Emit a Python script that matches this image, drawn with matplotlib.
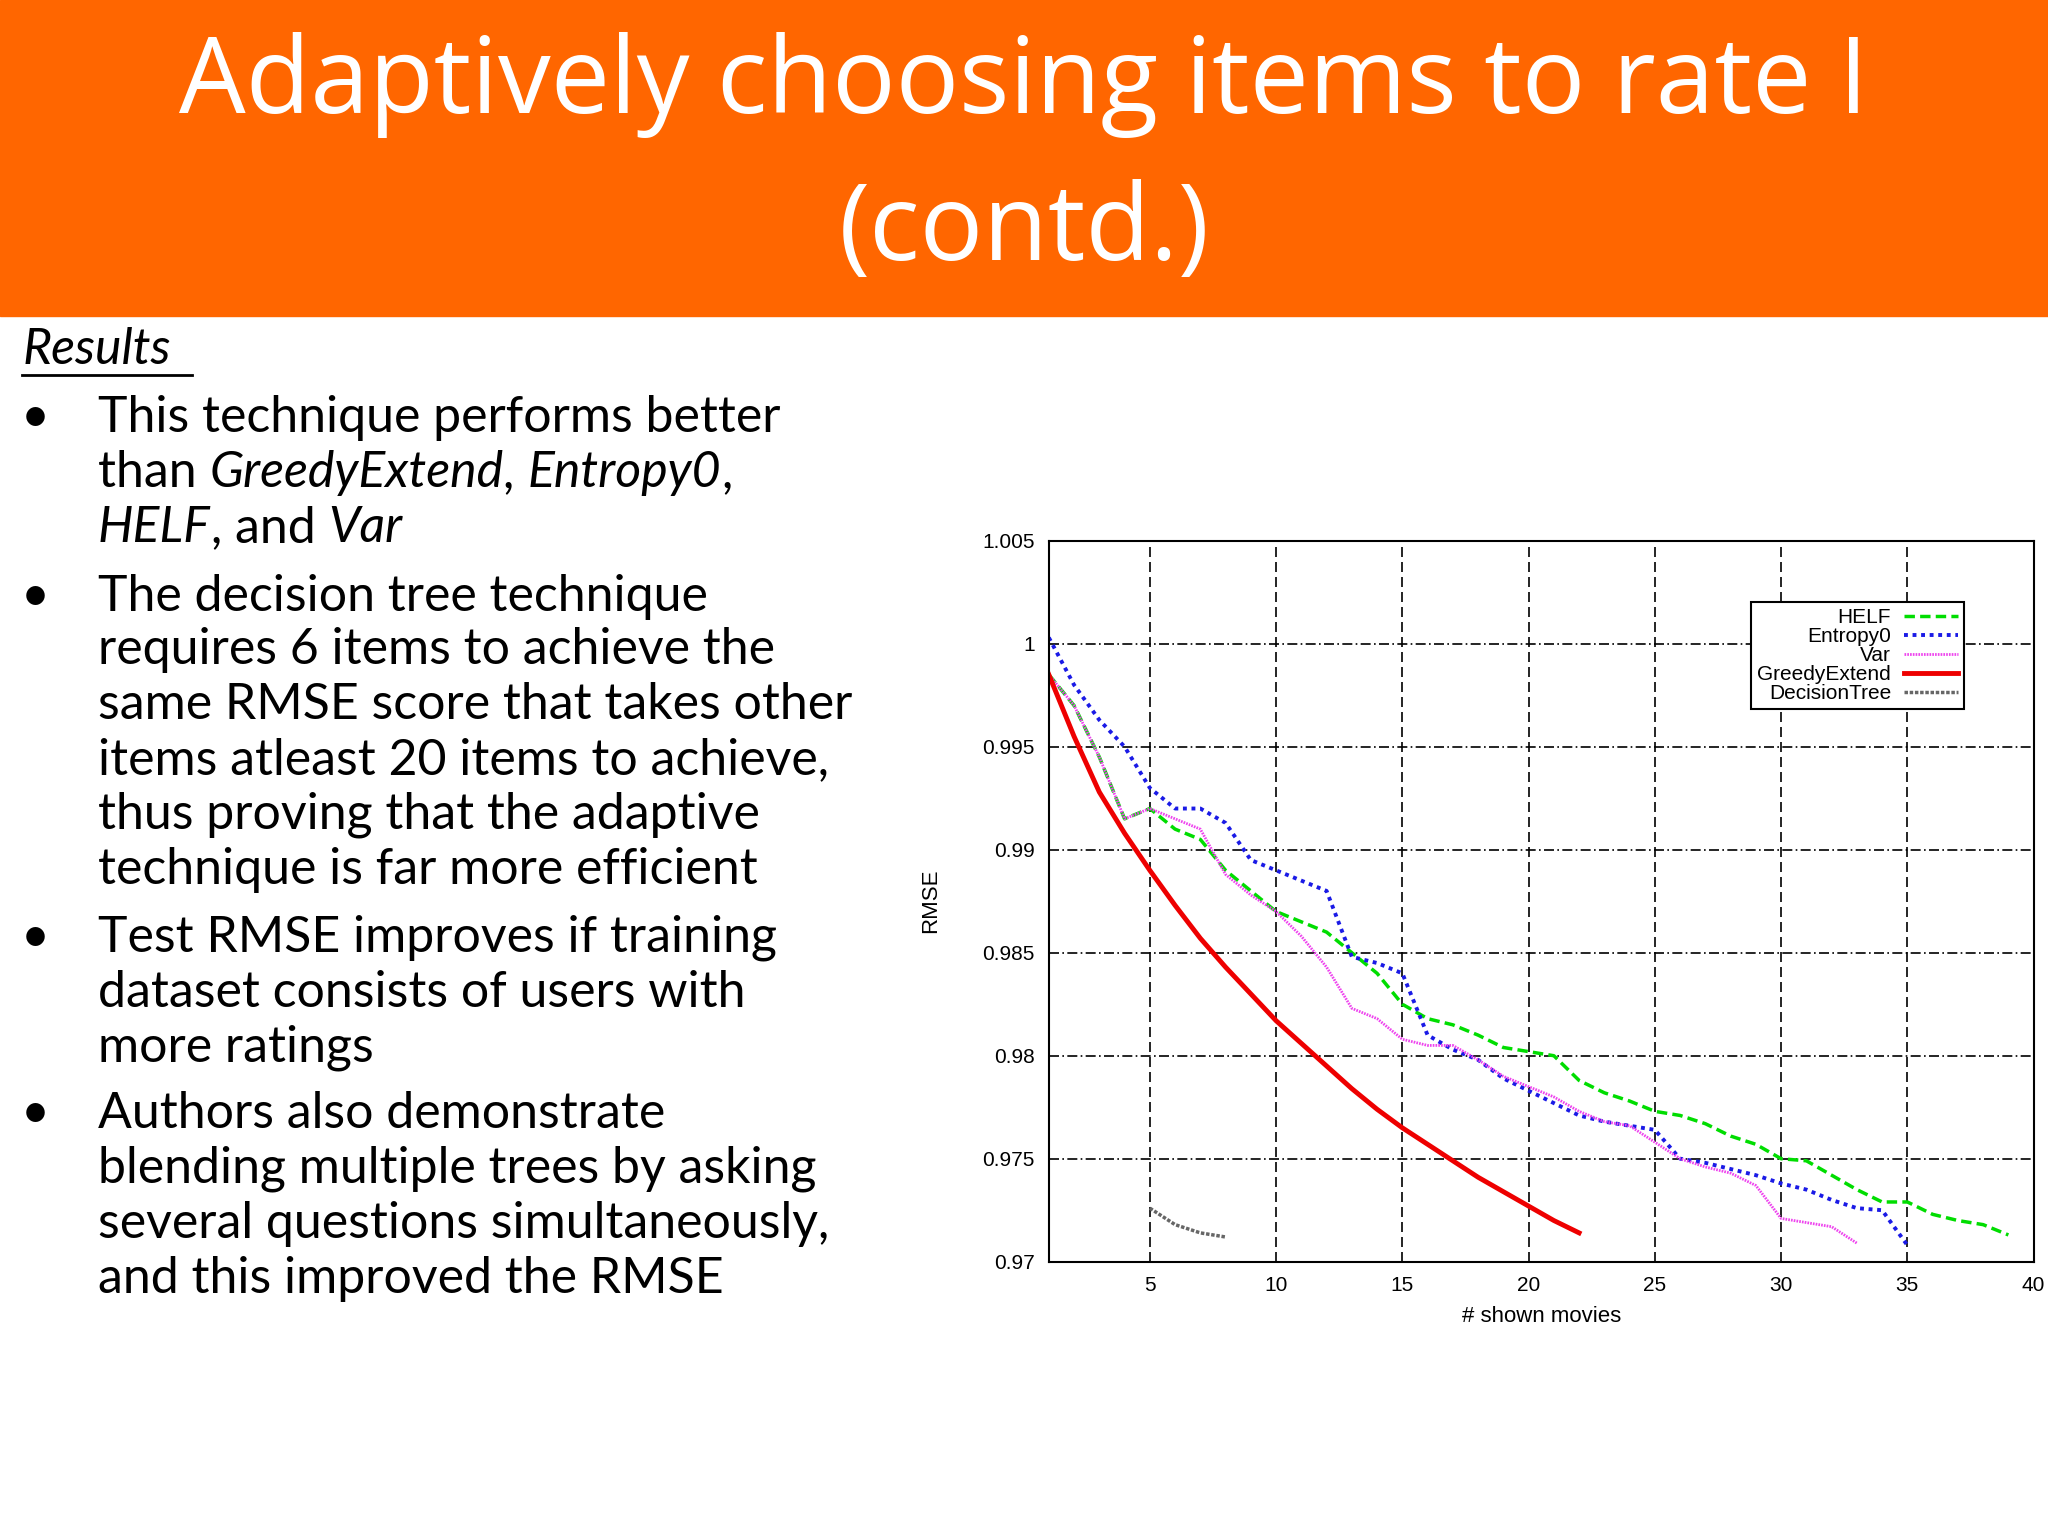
import matplotlib
matplotlib.use("Agg")
import matplotlib.pyplot as plt
from matplotlib.patches import Rectangle

x_helf = list(range(1, 40))
helf = [0.9985, 0.997, 0.9945, 0.9915, 0.992, 0.991, 0.9905, 0.989, 0.988, 0.987,
        0.9865, 0.986, 0.985, 0.984, 0.9825, 0.9818, 0.9815, 0.981, 0.9804, 0.9802,
        0.980, 0.9788, 0.9782, 0.9778, 0.9773, 0.9771, 0.9767, 0.9761, 0.9757, 0.975,
        0.9749, 0.9742, 0.9735, 0.9729, 0.9729, 0.9723, 0.972, 0.9718, 0.9713]
x_ent = list(range(1, 36))
entropy0 = [1.0003, 0.998, 0.9963, 0.995, 0.993, 0.992, 0.992, 0.9913, 0.9895, 0.989,
            0.9885, 0.988, 0.9848, 0.9845, 0.984, 0.981, 0.9803, 0.9798, 0.9789, 0.9783,
            0.9777, 0.9771, 0.9768, 0.9766, 0.9764, 0.975, 0.9748, 0.9745, 0.9742, 0.9738,
            0.9735, 0.973, 0.9726, 0.9725, 0.9708]
x_var = list(range(1, 34))
var = [0.9985, 0.997, 0.9945, 0.9915, 0.992, 0.9915, 0.991, 0.9888, 0.9878, 0.987,
       0.9858, 0.9843, 0.9823, 0.9818, 0.9808, 0.9805, 0.9805, 0.9798, 0.979, 0.9785,
       0.978, 0.9773, 0.9768, 0.9766, 0.9758, 0.975, 0.9746, 0.9743, 0.9737, 0.9721,
       0.9719, 0.9717, 0.9709]
x_greedy = list(range(1, 23))
greedy = [0.9985, 0.9955, 0.9928, 0.9908, 0.989, 0.9873, 0.9857, 0.9843, 0.983, 0.9817,
          0.9806, 0.9795, 0.9784, 0.9774, 0.9765, 0.9757, 0.9749, 0.9741, 0.9734, 0.9727,
          0.972, 0.9714]
x_tree = [5, 6, 7, 8]
tree = [0.9726, 0.9718, 0.9714, 0.9712]
x_ticks = [5, 10, 15, 20, 25, 30, 35, 40]
y_ticks = [0.97, 0.975, 0.98, 0.985, 0.99, 0.995, 1.0, 1.005]
y_labels = ["0.97", "0.975", "0.98", "0.985", "0.99", "0.995", "1", "1.005"]

fig = plt.figure(figsize=(20.48, 15.36), dpi=100)
fig.patches.append(Rectangle((0, 1 - 242/1176), 1, 242/1176, transform=fig.transFigure,
                             color="#FF6600", zorder=0))
tf = "Open Sans"
fig.text(0.5, 1 - 65/1176, "Adaptively choosing items to rate I", ha="center", va="center",
         color="white", fontsize=76, family=tf)
fig.text(0.5, 1 - 178/1176, "(contd.)", ha="center", va="center",
         color="white", fontsize=76, family=tf)

bf = "Lato"
fs = 36
t = fig.text(17/1568, 1 - 268/1176, "Results", fontsize=fs, style="italic", family=bf, va="center")
fig.text(17/1568, 1 - 287/1176, "_______", fontsize=fs, family=bf, va="bottom", alpha=0)
fig.add_artist(plt.Line2D([17/1568, 147/1568], [1 - 287/1176]*2, color="black", lw=2,
                          transform=fig.transFigure))

lines = [
    (320, True, [("This technique performs better", "normal")]),
    (362, False, [("than ", "normal"), ("GreedyExtend", "italic"), (", ", "normal"), ("Entropy0", "italic"), (",", "normal")]),
    (404, False, [("HELF", "italic"), (", and ", "normal"), ("Var", "italic")]),
    (457, True, [("The decision tree technique", "normal")]),
    (498, False, [("requires 6 items to achieve the", "normal")]),
    (540, False, [("same RMSE score that takes other", "normal")]),
    (582, False, [("items atleast 20 items to achieve,", "normal")]),
    (624, False, [("thus proving that the adaptive", "normal")]),
    (666, False, [("technique is far more efficient", "normal")]),
    (718, True, [("Test RMSE improves if training", "normal")]),
    (760, False, [("dataset consists of users with", "normal")]),
    (802, False, [("more ratings", "normal")]),
    (853, True, [("Authors also demonstrate", "normal")]),
    (895, False, [("blending multiple trees by asking", "normal")]),
    (937, False, [("several questions simultaneously,", "normal")]),
    (979, False, [("and this improved the RMSE", "normal")]),
]
for y, bullet, parts in lines:
    yf = 1 - y/1176
    if bullet:
        fig.text(16/1568, yf, "•", fontsize=fs, family=bf, va="center")
    prev = fig.text(75/1568, yf, parts[0][0], fontsize=fs, style=parts[0][1], family=bf, va="center")
    for txt, st in parts[1:]:
        prev = fig.text(0, 0, txt, fontsize=fs, style=st, family=bf, va="baseline",
                        transform=matplotlib.transforms.offset_copy(prev.get_transform(), fig=fig),)
        prev.remove()
        break
# simpler chaining using annotate
for y, bullet, parts in lines:
    pass

ax = fig.add_axes([803/1568, 1 - 966/1176, (1557-803)/1568, (966-414)/1176])
ax.plot(x_helf, helf, color="#00DD00", ls=(0, (3, 1.5)), lw=2.5, label="HELF")
ax.plot(x_ent, entropy0, color="#1A1AE6", ls=(0, (1, 1.2)), lw=2.8, label="Entropy0")
ax.plot(x_var, var, color="#EE44EE", ls=(0, (0.6, 0.4)), lw=2.0, label="Var")
ax.plot(x_greedy, greedy, color="#EE0000", ls="-", lw=3.5, label="GreedyExtend")
ax.plot(x_tree, tree, color="#666666", ls=(0, (1, 0.5)), lw=2.5, label="DecisionTree")
ax.set_xlim(1, 40)
ax.set_ylim(0.97, 1.005)
ax.set_xticks(x_ticks)
ax.set_yticks(y_ticks)
ax.set_yticklabels(y_labels)
ax.tick_params(labelsize=15, direction="in", length=0, pad=10)
for lab in ax.get_xticklabels() + ax.get_yticklabels():
    lab.set_family("Liberation Sans")
ax.xaxis.grid(True, color="black", ls=(0, (6, 3)), lw=1.2)
ax.yaxis.grid(True, color="black", ls=(0, (6, 2, 1, 2)), lw=1.2)
ax.set_xlabel("# shown movies", fontsize=16, family="Liberation Sans", labelpad=8)
ax.set_ylabel("RMSE", fontsize=16, family="Liberation Sans", labelpad=30)
for s in ax.spines.values():
    s.set_linewidth(1.5)
leg = ax.legend(loc="upper right", bbox_to_anchor=(0.94, 0.93), markerfirst=False,
                fancybox=False, framealpha=1, edgecolor="black", fontsize=15,
                prop={"family": "Liberation Sans", "size": 15},
                labelspacing=0.0, handlelength=2.6, borderpad=0.3, handletextpad=0.6)
leg.get_frame().set_linewidth(1.5)

fig.canvas.draw()
# draw each text line with styled pieces chained
for t_ in list(fig.texts):
    pass
r = fig.canvas.get_renderer()
for y, bullet, parts in lines:
    if len(parts) < 2:
        continue
    # find the first piece already drawn
    first = [tx for tx in fig.texts if tx.get_text() == parts[0][0] and abs(tx.get_position()[1] - (1 - y/1176)) < 1e-6][0]
    prev = first
    for txt, st in parts[1:]:
        bb = prev.get_window_extent(r)
        xf = bb.x1 / fig.bbox.width
        prev = fig.text(xf, 1 - y/1176, txt, fontsize=fs, style=st, family=bf, va="center")
        prev.draw(r)
fig.savefig("out.png", dpi=100)
